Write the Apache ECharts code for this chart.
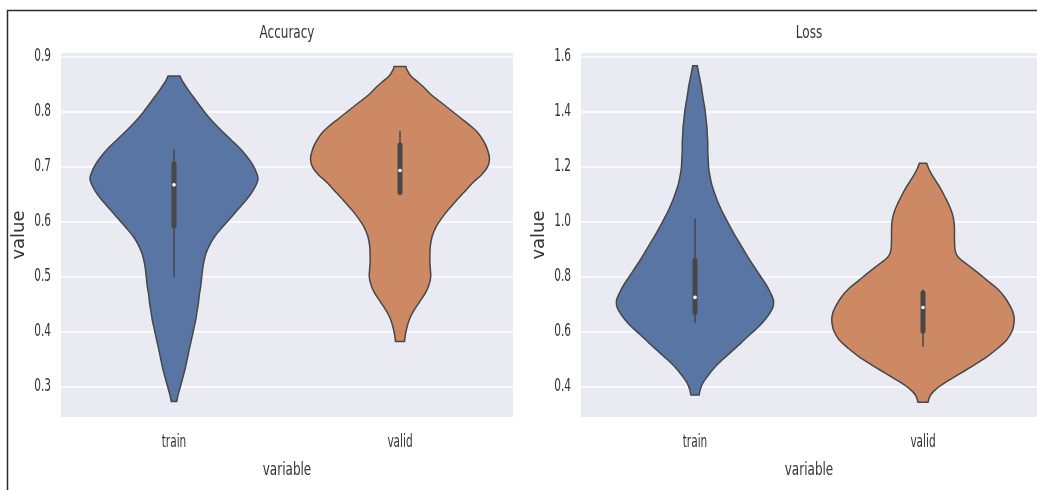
<!DOCTYPE html>
<html>
<head>
<meta charset="utf-8">
<script src="https://cdn.jsdelivr.net/npm/echarts@6/dist/echarts.min.js"></script>
<style>
  html, body { margin: 0; padding: 0; background: #ffffff; }
  #chart { width: 1037px; height: 490px; }
</style>
</head>
<body>
<div id="chart"></div>
<script>
// ---- data ----
const categories = ['train', 'valid'];

// Kernel density outline of each violin: [value, relative density]
const accTrainProfile = [
  [0.273, 0.03], [0.285, 0.045], [0.300, 0.07], [0.315, 0.095], [0.330, 0.12],
  [0.345, 0.14], [0.361, 0.16], [0.376, 0.18], [0.391, 0.20], [0.406, 0.22],
  [0.421, 0.24], [0.437, 0.255], [0.452, 0.27], [0.467, 0.28], [0.482, 0.295],
  [0.497, 0.305], [0.512, 0.315], [0.527, 0.33], [0.543, 0.355], [0.558, 0.395],
  [0.573, 0.45], [0.588, 0.525], [0.603, 0.605], [0.618, 0.685], [0.633, 0.765],
  [0.648, 0.84], [0.664, 0.90], [0.678, 0.93], [0.690, 0.91], [0.705, 0.865],
  [0.720, 0.80], [0.735, 0.72], [0.750, 0.625], [0.765, 0.53], [0.780, 0.44],
  [0.790, 0.385], [0.800, 0.335], [0.810, 0.29], [0.820, 0.245], [0.830, 0.20],
  [0.840, 0.155], [0.850, 0.115], [0.858, 0.085], [0.865, 0.065]
];
const accValidProfile = [
  [0.382, 0.05], [0.395, 0.06], [0.410, 0.08], [0.425, 0.11], [0.440, 0.16],
  [0.455, 0.22], [0.470, 0.28], [0.485, 0.32], [0.500, 0.34], [0.515, 0.335],
  [0.530, 0.33], [0.555, 0.335], [0.573, 0.355], [0.591, 0.40], [0.606, 0.46],
  [0.621, 0.53], [0.636, 0.61], [0.652, 0.70], [0.670, 0.80], [0.685, 0.90],
  [0.700, 0.97], [0.715, 0.99], [0.730, 0.97], [0.745, 0.93], [0.760, 0.87],
  [0.773, 0.79], [0.788, 0.675], [0.803, 0.56], [0.818, 0.445], [0.833, 0.33],
  [0.845, 0.26], [0.855, 0.19], [0.865, 0.12], [0.875, 0.08], [0.882, 0.065]
];
const lossTrainProfile = [
  [0.369, 0.045], [0.385, 0.055], [0.399, 0.068], [0.415, 0.09], [0.436, 0.135],
  [0.467, 0.21], [0.497, 0.30], [0.527, 0.40], [0.557, 0.50], [0.588, 0.60],
  [0.618, 0.70], [0.648, 0.78], [0.678, 0.84], [0.695, 0.86], [0.715, 0.86],
  [0.739, 0.83], [0.770, 0.78], [0.800, 0.72], [0.830, 0.66], [0.860, 0.60],
  [0.890, 0.545], [0.921, 0.49], [0.951, 0.435], [0.981, 0.385], [1.012, 0.335],
  [1.042, 0.29], [1.072, 0.25], [1.103, 0.215], [1.133, 0.185], [1.163, 0.165],
  [1.194, 0.15], [1.224, 0.145], [1.254, 0.14], [1.284, 0.14], [1.315, 0.135],
  [1.345, 0.13], [1.375, 0.12], [1.406, 0.11], [1.436, 0.095], [1.466, 0.08],
  [1.490, 0.07], [1.515, 0.055], [1.540, 0.04], [1.566, 0.025]
];
const lossValidProfile = [
  [0.3425, 0.055], [0.355, 0.065], [0.370, 0.085], [0.385, 0.125], [0.400, 0.18],
  [0.4175, 0.26], [0.448, 0.41], [0.478, 0.56], [0.508, 0.70], [0.539, 0.82],
  [0.570, 0.92], [0.600, 0.975], [0.624, 0.995], [0.648, 1.00], [0.672, 0.985],
  [0.696, 0.95], [0.727, 0.89], [0.757, 0.81], [0.787, 0.70], [0.817, 0.59],
  [0.840, 0.50], [0.860, 0.42], [0.878, 0.37], [0.900, 0.35], [0.939, 0.345],
  [0.970, 0.345], [0.999, 0.34], [1.030, 0.32], [1.060, 0.285], [1.090, 0.24],
  [1.121, 0.19], [1.145, 0.145], [1.169, 0.10], [1.190, 0.065], [1.212, 0.04]
];

// Inner box: [lower whisker, q1, median, q3, upper whisker]
const accTrainStats = [0.499, 0.587, 0.667, 0.710, 0.731];
const accValidStats = [0.648, 0.649, 0.693, 0.744, 0.765];
const lossTrainStats = [0.630, 0.660, 0.724, 0.869, 1.012];
const lossValidStats = [0.545, 0.592, 0.687, 0.750, 0.752];

// Axis ticks and limits
const accTicks = [0.3, 0.4, 0.5, 0.6, 0.7, 0.8, 0.9];
const lossTicks = [0.4, 0.6, 0.8, 1.0, 1.2, 1.4, 1.6];
const accRange = [0.2449, 0.9067];
const lossRange = [0.2891, 1.6127];

const panelTitles = ['Accuracy', 'Loss'];

// ---- style ----
const FONT = "'DejaVu Sans', sans-serif";
const TEXT = '#333333';
const PANEL_BG = '#EAEAF2';
const OUTLINE = '#474747';
const FILLS = ['#5975A4', '#CC8963'];
const TICK_SIZE = 17, TICK_SQUEEZE = 0.62;
const LABEL_SIZE = 18.5, LABEL_SQUEEZE = 0.65;

const GRID_TOP = 53, GRID_H = 364;
const grids = [
  { left: 61, top: GRID_TOP, width: 452, height: GRID_H },
  { left: 581, top: GRID_TOP, width: 456, height: GRID_H }
];

// Catmull-Rom spline through points, emitted as cubic bezier segments
function splineSegments(pts) {
  let d = '';
  for (let i = 0; i < pts.length - 1; i++) {
    const p0 = pts[Math.max(i - 1, 0)];
    const p1 = pts[i];
    const p2 = pts[i + 1];
    const p3 = pts[Math.min(i + 2, pts.length - 1)];
    const c1 = [p1[0] + (p2[0] - p0[0]) / 6, p1[1] + (p2[1] - p0[1]) / 6];
    const c2 = [p2[0] - (p3[0] - p1[0]) / 6, p2[1] - (p3[1] - p1[1]) / 6];
    d += ' C' + c1[0] + ',' + c1[1] + ' ' + c2[0] + ',' + c2[1] + ' ' + p2[0] + ',' + p2[1];
  }
  return d;
}

function violinRenderer(profiles, stats) {
  return function (params, api) {
    const idx = api.value(0);
    const prof = profiles[idx];
    const st = stats[idx];
    const cx = api.coord([idx, st[2]])[0];
    const half = api.size([1, 0])[0] * 0.4;   // widest violin spans 80% of its band
    const right = prof.map(p => [cx + p[1] * half, api.coord([idx, p[0]])[1]]);
    const left = prof.map(p => [cx - p[1] * half, api.coord([idx, p[0]])[1]]).reverse();
    let d = 'M' + right[0][0] + ',' + right[0][1] + splineSegments(right);
    d += ' L' + left[0][0] + ',' + left[0][1] + splineSegments(left) + ' Z';

    const yLo = api.coord([idx, st[0]])[1];
    const yQ1 = api.coord([idx, st[1]])[1];
    const yMed = api.coord([idx, st[2]])[1];
    const yQ3 = api.coord([idx, st[3]])[1];
    const yHi = api.coord([idx, st[4]])[1];

    return {
      type: 'group',
      children: [
        {
          type: 'path',
          shape: { pathData: d },
          style: { fill: FILLS[idx], stroke: OUTLINE, lineWidth: 1.5 }
        },
        {
          type: 'line',
          shape: { x1: cx, y1: yLo, x2: cx, y2: yHi },
          style: { stroke: OUTLINE, lineWidth: 1.5 }
        },
        {
          type: 'rect',
          shape: { x: cx - 2.5, y: yQ3, width: 5, height: yQ1 - yQ3, r: 2.5 },
          style: { fill: OUTLINE }
        },
        {
          type: 'circle',
          shape: { cx: cx, cy: yMed, r: 1.8 },
          style: { fill: '#ffffff' }
        }
      ]
    };
  };
}

function yAxisFor(gridIndex, range, ticks) {
  return {
    type: 'value',
    gridIndex: gridIndex,
    min: range[0],
    max: range[1],
    name: 'value',
    nameLocation: 'middle',
    nameGap: 33,
    nameTextStyle: { fontFamily: FONT, fontSize: 18, color: TEXT },
    axisLine: { show: false },
    axisTick: { show: false, customValues: ticks },
    axisLabel: { show: false, customValues: ticks },
    splitLine: { show: true, lineStyle: { color: '#ffffff', width: 1.6 } }
  };
}

function xAxisFor(gridIndex) {
  return {
    type: 'category',
    gridIndex: gridIndex,
    data: categories,
    axisLine: { show: false },
    axisTick: { show: false },
    axisLabel: { show: false },
    splitLine: { show: false }
  };
}

const chart = echarts.init(document.getElementById('chart'), null, { renderer: 'canvas' });

chart.setOption({
  backgroundColor: '#ffffff',
  animation: false,
  grid: grids.map(g => Object.assign({ show: true, backgroundColor: PANEL_BG, borderWidth: 0 }, g)),
  xAxis: [xAxisFor(0), xAxisFor(1)],
  yAxis: [yAxisFor(0, accRange, accTicks), yAxisFor(1, lossRange, lossTicks)],
  series: [
    {
      type: 'custom',
      xAxisIndex: 0, yAxisIndex: 0,
      renderItem: violinRenderer([accTrainProfile, accValidProfile], [accTrainStats, accValidStats]),
      encode: { x: 0, y: 1 },
      data: categories.map((c, i) => [i, [accTrainStats, accValidStats][i][2]]),
      clip: false
    },
    {
      type: 'custom',
      xAxisIndex: 1, yAxisIndex: 1,
      renderItem: violinRenderer([lossTrainProfile, lossValidProfile], [lossTrainStats, lossValidStats]),
      encode: { x: 0, y: 1 },
      data: categories.map((c, i) => [i, [lossTrainStats, lossValidStats][i][2]]),
      clip: false
    }
  ]
});

// Horizontal text is set in a narrow, horizontally squeezed face.
function squeezedText(text, x, y, size, squeeze, align) {
  return {
    type: 'text',
    x: x, y: y,
    scaleX: squeeze,
    style: {
      text: text, fontFamily: FONT, fontSize: size, fill: TEXT,
      textAlign: align, textVerticalAlign: 'middle'
    }
  };
}

const texts = [];
[accTicks, lossTicks].forEach((ticks, gi) => {
  const g = grids[gi];
  const bottom = g.top + g.height;
  // tick labels on the value axis, placed through the axis scale
  ticks.forEach(t => {
    const p = chart.convertToPixel({ gridIndex: gi }, [0, t]);
    texts.push(squeezedText(t.toFixed(1), g.left - 10, p[1], TICK_SIZE, TICK_SQUEEZE, 'right'));
  });
  // category labels
  categories.forEach((c, i) => {
    const p = chart.convertToPixel({ gridIndex: gi }, [i, ticks[0]]);
    texts.push(squeezedText(c, p[0], bottom + 26, TICK_SIZE, TICK_SQUEEZE, 'center'));
  });
  texts.push(squeezedText('variable', g.left + g.width / 2, bottom + 53, LABEL_SIZE, LABEL_SQUEEZE, 'center'));
  texts.push(squeezedText(panelTitles[gi], g.left + g.width / 2, 33, LABEL_SIZE, LABEL_SQUEEZE, 'center'));
});

chart.setOption({
  graphic: texts.concat([
    {
      type: 'polyline',
      shape: { points: [[7.5, 490], [7.5, 10.5], [1037, 10.5]] },
      style: { stroke: '#2b2b2b', lineWidth: 1.5, fill: null }
    }
  ])
});
</script>
</body>
</html>
